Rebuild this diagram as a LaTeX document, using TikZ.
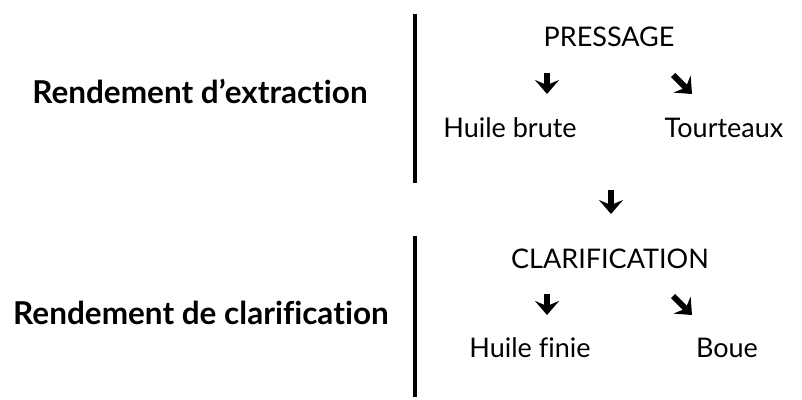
\documentclass[tikz,border=0pt]{standalone}
\usepackage{fontspec}
\setmainfont{Lato}[Ligatures=NoCommon]
\usetikzlibrary{arrows.meta,positioning}

\tikzset{
  etape/.style     = {font=\fontsize{27}{31}\selectfont, inner sep=0pt, anchor=base},
  rendement/.style = {font=\fontsize{31.5}{36}\selectfont\bfseries, inner sep=0pt, anchor=base},
  barre/.style     = {line width=4pt},
  fleche/.style    = {line width=6pt, -{Stealth[length=14pt,width=24pt,inset=5pt]}}
}

\begin{document}
\begin{tikzpicture}[x=1pt,y=-1pt]
\useasboundingbox (0,0) rectangle (802,399);

% rendements
\node[rendement] (extraction)    at (200,103) {Rendement d’extraction};
\node[rendement] (clarification) at (201,324) {Rendement de clarification};

% separateurs
\coordinate (b1h) at (415,14);  \coordinate (b1b) at (415,183);
\coordinate (b2h) at (415,236); \coordinate (b2b) at (415,397);
\draw[barre] (b1h) -- (b1b);
\draw[barre] (b2h) -- (b2b);

% etapes
\node[etape] (pressage)  at (609,46)  {PRESSAGE};
\node[etape] (brute)     at (510,137) {Huile brute};
\node[etape] (tourteaux) at (724,137) {Tourteaux};
\node[etape] (clarif)    at (610,268) {CLARIFICATION};
\node[etape] (finie)     at (530,357) {Huile finie};
\node[etape] (boue)      at (727,357) {Boue};

% fleches
\coordinate (f1h) at (547,73);  \coordinate (f1b) at (547,94);
\coordinate (f2h) at (673,75);  \coordinate (f2b) at (692,94);
\coordinate (f3h) at (611,190); \coordinate (f3b) at (611,214);
\coordinate (f4h) at (547,294); \coordinate (f4b) at (547,315);
\coordinate (f5h) at (673,296); \coordinate (f5b) at (692,315);

\draw[fleche] (f1h) -- (f1b);
\draw[fleche] (f2h) -- (f2b);
\draw[fleche] (f3h) -- (f3b);
\draw[fleche] (f4h) -- (f4b);
\draw[fleche] (f5h) -- (f5b);
\end{tikzpicture}
\end{document}
